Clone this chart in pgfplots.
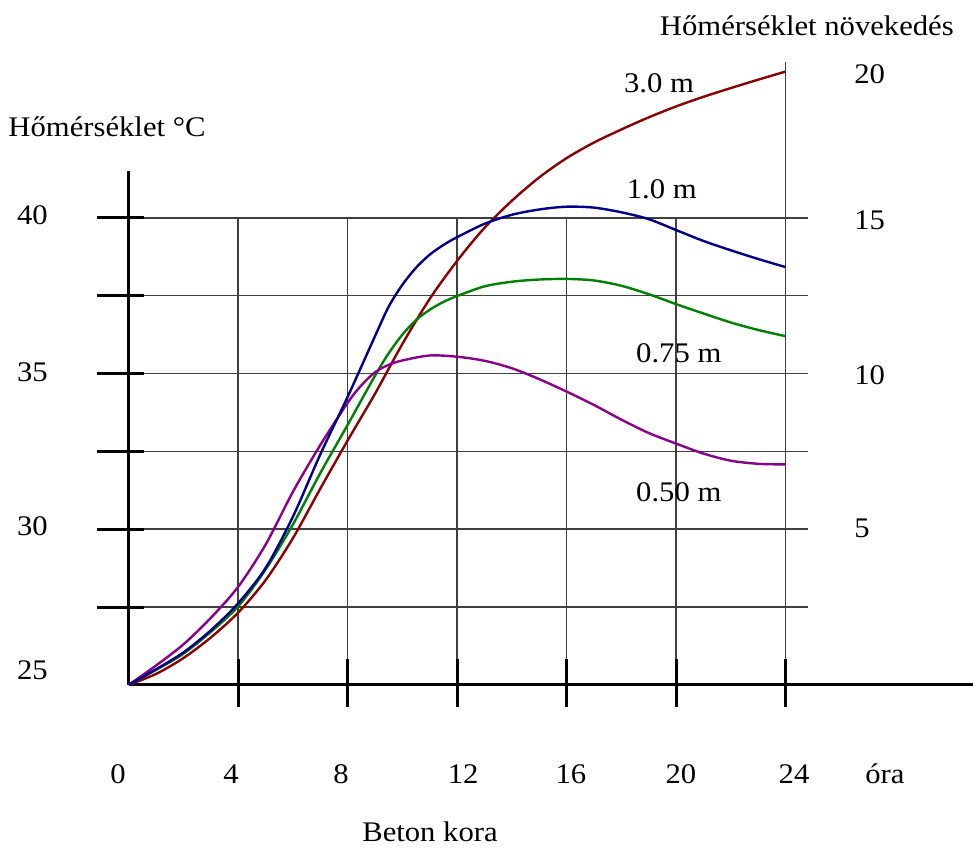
\documentclass[border=0pt]{standalone}
\usepackage{fontspec}
\setmainfont{Liberation Serif}[FakeStretch=1.08]
\usepackage{pgfplots}
\pgfplotsset{compat=1.18}
\definecolor{cRed}{RGB}{139,0,0}
\definecolor{cBlue}{RGB}{0,0,139}
\definecolor{cGreen}{RGB}{0,128,0}
\definecolor{cPurple}{RGB}{139,0,139}
\tikzset{lab/.style={font=\fontsize{14.2}{17}\selectfont, inner sep=0pt}}
\begin{document}
\fontsize{14.2}{17}\selectfont
\begin{tikzpicture}
\begin{axis}[
  x=13.685pt, y=15.565pt,
  xmin=0, xmax=24, ymin=25, ymax=40,
  hide axis, clip=false,
]
% bounding corners
\coordinate (bl) at (axis cs:-4.702,19.60);
\coordinate (tr) at (axis cs:30.85,47.0);
% grid
\begin{scope}[line width=0.75pt, black!75]
\draw (0,27.5) -- (24.82,27.5);
\draw (0,30) -- (24.82,30);
\draw (0,32.5) -- (24.82,32.5);
\draw (0,35) -- (24.82,35);
\draw (0,37.5) -- (24.82,37.5);
\draw (0,40) -- (24.82,40);
\draw (4,25) -- (4,40);
\draw (8,25) -- (8,40);
\draw (12,25) -- (12,40);
\draw (16,25) -- (16,40);
\draw (20,25) -- (20,40);
\draw (24,25) -- (24,45.0);
\end{scope}
% axes
\begin{scope}[line width=1.5pt, black]
\draw (0,25) -- (0,41.51);
\draw (0,25) -- (30.85,25);
\draw (-1.155,27.5) -- (0.56,27.5);
\draw (-1.155,30) -- (0.56,30);
\draw (-1.155,32.5) -- (0.56,32.5);
\draw (-1.155,35) -- (0.56,35);
\draw (-1.155,37.5) -- (0.56,37.5);
\draw (-1.155,40) -- (0.56,40);
\draw (4,24.29) -- (4,25.835);
\draw (8,24.29) -- (8,25.835);
\draw (12,24.29) -- (12,25.835);
\draw (16,24.29) -- (16,25.835);
\draw (20,24.29) -- (20,25.835);
\draw (24,24.29) -- (24,25.835);
\end{scope}
% curves
\addplot[cRed, line width=1.2pt, smooth] coordinates {
(0,25) (1,25.35) (2,25.86) (3,26.52) (4,27.32) (5,28.36) (6,29.71) (7,31.3) (8,32.85)
(9,34.35) (10,35.95) (11,37.4) (12,38.62) (13,39.68) (14,40.55) (15,41.3) (16,41.92)
(17,42.42) (18,42.84) (19,43.23) (20,43.58) (21,43.89) (22,44.17) (23,44.44) (24,44.70)};
\addplot[cGreen, line width=1.2pt, smooth] coordinates {
(0,25) (1,25.48) (2,26.0) (3,26.7) (4,27.52) (5,28.7) (6,30.15) (7,31.8) (8,33.35)
(9,34.93) (9.5,35.65) (10,36.25) (10.5,36.72) (11,37.05) (11.5,37.3) (12,37.49) (13,37.8) (14,37.95) (15,38.02) (16,38.04)
(17,37.99) (18,37.82) (19,37.55) (20,37.23) (21,36.93) (22,36.64) (23,36.4) (24,36.2)};
\addplot[cPurple, line width=1.2pt, smooth] coordinates {
(0,25) (1,25.62) (2,26.3) (3,27.15) (4,28.15) (5,29.5) (6,31.2) (7,32.7) (8,34.06)
(8.5,34.62) (9,35.04) (9.5,35.28) (10,35.42) (11,35.58) (12,35.54) (13,35.41) (14,35.17) (15,34.82) (16,34.42)
(17,33.99) (18,33.52) (19,33.09) (20,32.75) (21,32.43) (22,32.2) (23,32.1) (24,32.08)};
\addplot[cBlue, line width=1.2pt, smooth] coordinates {
(0,25) (1,25.5) (2,26.04) (3,26.75) (4,27.62) (5,28.75) (6,30.4) (7,32.4) (8,34.25)
(9,36.2) (9.5,37.15) (10,37.85) (10.5,38.4) (11,38.82) (11.5,39.13) (12,39.38) (13,39.81) (14,40.1) (15,40.27) (16,40.36)
(17,40.33) (18,40.18) (19,39.96) (20,39.61) (21,39.26) (22,38.96) (23,38.68) (24,38.42)};
% left tick labels
\node[lab] at (-3.515,40.1) {40};
\node[lab] at (-3.515,35.05) {35};
\node[lab] at (-3.515,30.08) {30};
\node[lab] at (-3.515,25.48) {25};
% right tick labels
\node[lab, anchor=west] at (26.5,44.63) {20};
\node[lab, anchor=west] at (26.5,39.94) {15};
\node[lab, anchor=west] at (26.5,34.96) {10};
\node[lab, anchor=west] at (26.5,30.04) {5};
% x tick labels
\node[lab, anchor=base] at (-0.39,21.84) {0};
\node[lab, anchor=base] at (3.74,21.84) {4};
\node[lab, anchor=base] at (7.76,21.84) {8};
\node[lab, anchor=base] at (12.22,21.84) {12};
\node[lab, anchor=base] at (16.16,21.84) {16};
\node[lab, anchor=base] at (20.18,21.84) {20};
\node[lab, anchor=base] at (24.31,21.84) {24};
\node[lab, anchor=base] at (27.63,21.84) {óra};
% titles
\node[lab, anchor=base] at (11.01,19.97) {Beton kora};
\node[lab, anchor=base] at (-0.793,42.60) {Hőmérséklet °C};
\node[lab, anchor=base] at (24.78,45.85) {Hőmérséklet növekedés};
% curve labels
\node[lab, anchor=base] at (19.38,44.04) {3.0 m};
\node[lab, anchor=base] at (19.48,40.63) {1.0 m};
\node[lab, anchor=base] at (20.1,35.37) {0.75 m};
\node[lab, anchor=base] at (20.1,30.89) {0.50 m};
\end{axis}
\pgfresetboundingbox
\path (bl) rectangle (tr);
\end{tikzpicture}
\end{document}
